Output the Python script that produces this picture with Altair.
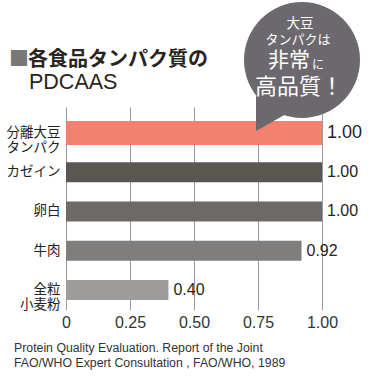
import altair as alt
import pandas as pd

foods = ["分離大豆タンパク", "カゼイン", "卵白", "牛肉", "全粒小麦粉"]
scores = [1.00, 1.00, 1.00, 0.92, 0.40]
bar_colors = ["#F4806F", "#5A5652", "#6E6A68", "#807E7D", "#9D9C9B"]
x_ticks = [0, 0.25, 0.5, 0.75, 1.0]
title_lines = ["各食品タンパク質の", "PDCAAS"]
note_lines = ["Protein Quality Evaluation. Report of the Joint",
              "FAO/WHO Expert Consultation , FAO/WHO, 1989"]

df = pd.DataFrame({"food": foods, "score": scores})

JP = "Noto Sans CJK JP"
LAT = "Liberation Sans"
TXT = "#2a2420"

label_expr = ("datum.value == '分離大豆タンパク' ? ['分離大豆', 'タンパク'] : "
              "datum.value == '全粒小麦粉' ? ['全粒', '小麦粉'] : datum.value")

y_enc = alt.Y("food:N", sort=foods,
              scale=alt.Scale(paddingInner=0.49, paddingOuter=0.331, align=0.615),
              axis=alt.Axis(title=None, domain=False, ticks=False, labelPadding=6,
                            labelFont=JP, labelFontSize=13.5, labelColor="#222",
                            labelLineHeight=15, labelExpr=label_expr))
x_enc = alt.X("score:Q", scale=alt.Scale(domain=[0, 1], nice=False),
              axis=alt.Axis(title=None, values=x_ticks, domain=False, ticks=False,
                            grid=True, gridColor="#9a9a9a", gridWidth=1,
                            labelFlush=False, labelOverlap=False,
                            labelPadding=4, labelFont=LAT, labelFontSize=16,
                            labelColor="#333",
                            labelExpr="datum.value == 0 ? '0' : format(datum.value, '.2f')"))

first = alt.datum.food == foods[0]

bars = alt.Chart(df).mark_bar().encode(
    x=x_enc, y=y_enc,
    color=alt.Color("food:N", scale=alt.Scale(domain=foods, range=bar_colors), legend=None),
    size=alt.condition(first, alt.value(24), alt.value(20)),
)

values = alt.Chart(df).mark_text(align="left", baseline="middle", dx=5, font=LAT,
                                 color=TXT).encode(
    x="score:Q", y=alt.Y("food:N", sort=foods),
    text=alt.Text("score:Q", format=".2f"),
    size=alt.condition(first, alt.value(18), alt.value(16)),
)

BUB = "#6B696D"
one = pd.DataFrame({"k": [0]})
bubble = alt.Chart(one).mark_point(filled=True, shape="circle", size=13456,
                                   color=BUB, opacity=1).encode(
    x=alt.value(236), y=alt.value(-47))
tail = alt.Chart(one).mark_point(
    filled=True, opacity=1, color=BUB, size=25600,
    shape="M-0.575,0.45 L-0.575,0.8875 L-0.1,0.62 Z").encode(
    x=alt.value(236), y=alt.value(-47))


def txt(s, x, y, size, color="white", font=JP, weight="normal", align="center"):
    return alt.Chart(one).mark_text(text=s, fontSize=size, color=color, font=font,
                                    fontWeight=weight, align=align,
                                    baseline="middle").encode(
        x=alt.value(x), y=alt.value(y))


bub_txt = [
    txt("大豆", 234, -83, 13.5),
    txt("タンパクは", 232, -67, 13),
    txt("非常", 223, -46, 21, align="center"),
    txt("に", 246, -42, 12, align="left"),
    txt("高品質！", 233, -20, 22),
]

title = [
    txt("■", -57, -47, 20, color="#7a7877", align="left"),
    txt(title_lines[0], -38, -47, 20, color=TXT, weight="bold", align="left"),
    txt(title_lines[1], -37, -24, 21.5, color=TXT, font=LAT, align="left"),
]
notes = [
    txt(note_lines[0], -52, 241, 12.3, color="#333", font=LAT, align="left"),
    txt(note_lines[1], -52, 256, 12.3, color="#333", font=LAT, align="left"),
]

chart = alt.layer(bars, values, bubble, tail, *bub_txt, *title, *notes).properties(
    width=256, height=203,
    padding={"left": 66, "top": 107, "right": 54, "bottom": 66},
    autosize="none",
    background="white",
).configure_view(stroke=None)

chart.save("out.html", embed_options={"renderer": "svg", "actions": False})
